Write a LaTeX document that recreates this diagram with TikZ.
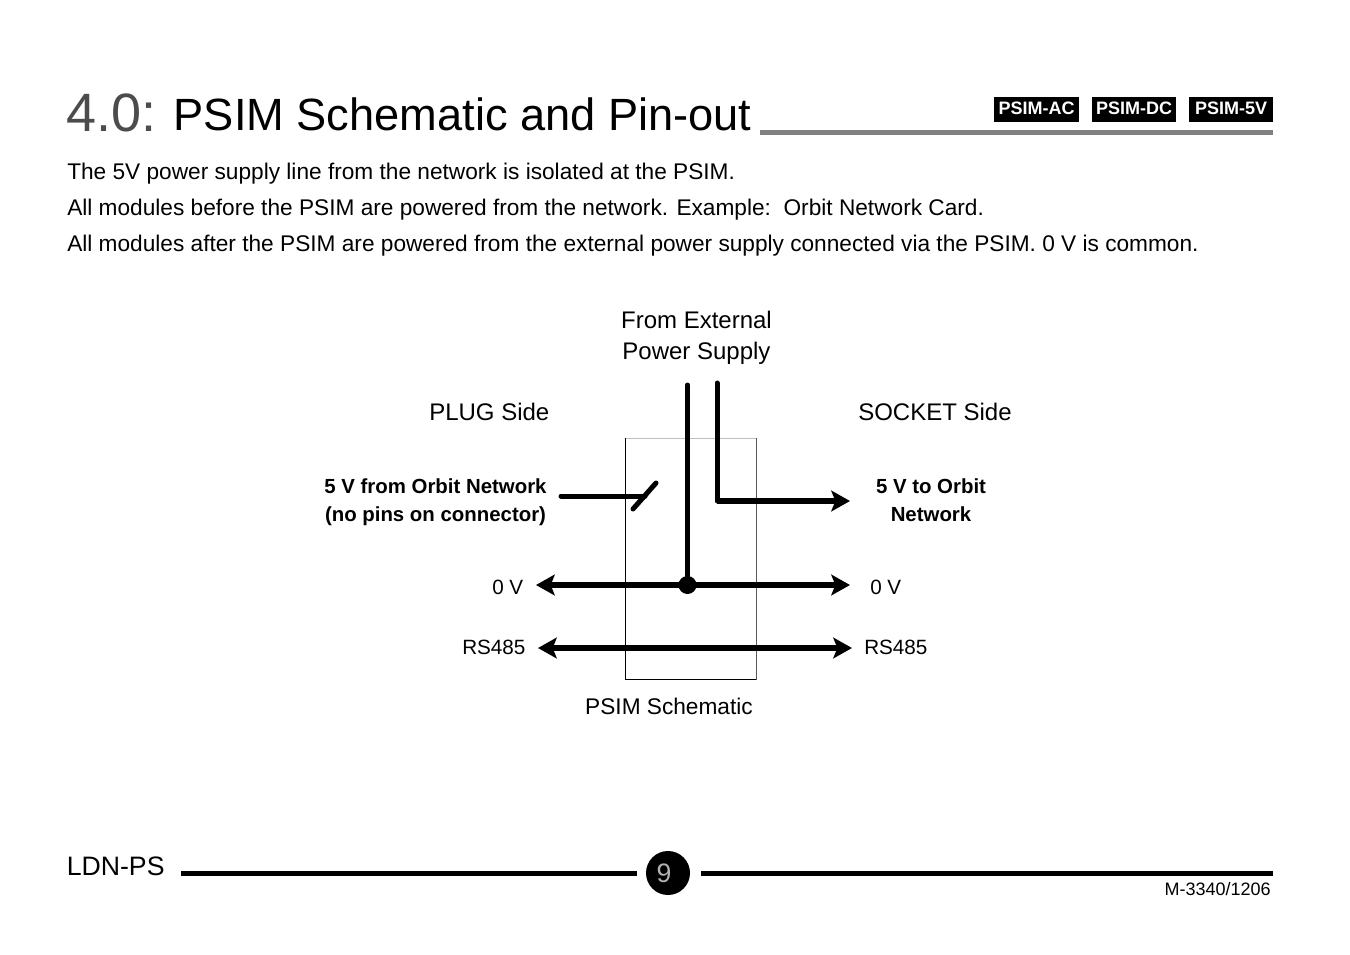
\documentclass[tikz,border=0pt]{standalone}
\usepackage{fontspec}
\setmainfont{Liberation Sans}
\usetikzlibrary{arrows.meta, positioning}

\tikzset{
	body/.style={anchor=base west, inner sep=0pt, font=\fontsize{17}{20}\selectfont},
	tag/.style={fill=black, text=white, inner sep=0pt, minimum width=63.5pt, minimum height=19pt, text depth=1.2pt, font=\fontsize{13.5}{15}\selectfont\bfseries},
	side/.style={anchor=base west, inner sep=0pt, font=\fontsize{18}{22}\selectfont},
	pin/.style={anchor=base west, inner sep=0pt, font=\fontsize{15.5}{18}\selectfont},
	wire/.style={line width=3.75pt, line cap=round, line join=miter},
	sig/.style={line width=4.2pt, -{Stealth[length=14pt,width=15.5pt,inset=3pt]}},
	bus/.style={line width=4.6pt, {Stealth[length=14pt,width=15.5pt,inset=3pt]}-{Stealth[length=14pt,width=15.5pt,inset=3pt]}},
	rule/.style={line width=3.75pt, black}
}

\begin{document}
\begin{tikzpicture}[x=0.75pt, y=-0.75pt]
	\useasboundingbox (0,0) rectangle (1350,954);
	% heading
	\node[body, text=black!70, font=\fontsize{40.5}{44}\selectfont] (num) at (66,131) {4.0:};
	\node[body, font=\fontsize{33.9}{40}\selectfont] (title) at (173.5,130) {PSIM Schematic and Pin-out};
	\coordinate (ruleA) at (760,132.5);
	\coordinate (ruleB) at (1273,132.5);
	\draw[line width=3.75pt, black!50] (ruleA) -- (ruleB);
	\node[tag] (tagac) at (1036.5,109.5) {PSIM-AC};
	\node[tag] (tagdc) at (1134,109.5) {PSIM-DC};
	\node[tag] (tagv) at (1231,109.5) {PSIM-5V};
	\node[body] (lineA) at (67,179) {The 5V power supply line from the network is isolated at the PSIM.};
	\node[body] (lineB) at (67,215) {All modules before the PSIM are powered from the network. Example:\ \ Orbit Network Card.};
	\node[body] (lineC) at (67,251) {All modules after the PSIM are powered from the external power supply connected via the PSIM. 0 V is common.};

	% schematic
	\coordinate (boxNW) at (625.5,438);
	\coordinate (boxNE) at (756,438);
	\coordinate (boxSW) at (625.5,679.5);
	\coordinate (boxSE) at (756,679.5);
	\draw[line width=0.75pt, black!25] (boxNW) -- (boxNE);
	\draw[line width=0.75pt, black!65] (boxNE) -- (boxSE);
	\draw[line width=0.75pt] (boxNW) -- (boxSW) -- (boxSE);

	\node[anchor=base, inner sep=0pt, align=center, font=\fontsize{18}{23.2}\selectfont] (supply) at (696.5,359) {From External\\Power Supply};
	\node[side] (plug) at (429,420) {PLUG Side};
	\node[side] (socket) at (858,420) {SOCKET Side};
	\node[anchor=base, inner sep=0pt, align=center, font=\fontsize{15.3}{20.3}\selectfont\bfseries] (netin) at (435.5,521) {5 V from Orbit Network\\(no pins on connector)};
	\node[anchor=base, inner sep=0pt, align=center, font=\fontsize{15.3}{20.3}\selectfont\bfseries] (netout) at (931,521) {5 V to Orbit\\Network};
	\node[pin] (zeroL) at (492,594) {0 V};
	\node[pin] (zeroR) at (870,594) {0 V};
	\node[pin] (rsL) at (462,654) {RS485};
	\node[pin] (rsR) at (864,654) {RS485};
	\node[anchor=base, inner sep=0pt, font=\fontsize{17}{20}\selectfont] (caption) at (669,714) {PSIM Schematic};

	\coordinate (inA) at (561,496);
	\coordinate (inB) at (645,496);
	\coordinate (swA) at (633,509);
	\coordinate (swB) at (656,483);
	\coordinate (gndTop) at (687.5,385);
	\coordinate (psTop) at (717,383);
	\coordinate (psBend) at (717,501);
	\coordinate (outEnd) at (850,501);
	\coordinate (zeroA) at (536,585);
	\coordinate (zeroB) at (850,585);
	\coordinate (rsA) at (538,648);
	\coordinate (rsB) at (852,648);
	\node[circle, fill=black, inner sep=0pt, minimum size=13.5pt] (join) at (687.5,585) {};
	\draw[wire] (inA) -- (inB);
	\draw[wire] (swA) -- (swB);
	\draw[wire] (gndTop) -- (join);
	\draw[wire] (psTop) -- (psBend);
	\draw[sig] (psBend) -- (outEnd);
	\draw[bus] (zeroA) -- (zeroB);
	\draw[bus] (rsA) -- (rsB);

	% footer
	\node[anchor=base west, inner sep=0pt, font=\fontsize{20}{24}\selectfont] (model) at (66.5,875) {LDN-PS};
	\node[circle, fill=black, inner sep=0pt, minimum size=33pt] (page) at (668,873) {};
	\node[text=black!30, inner sep=0pt, font=\fontsize{20}{24}\selectfont] (pageno) at (664,873) {9};
	\coordinate (footA) at (181,873);
	\coordinate (footB) at (637,873);
	\coordinate (footC) at (701,873);
	\coordinate (footD) at (1273,873);
	\draw[rule] (footA) -- (footB);
	\draw[rule] (footC) -- (footD);
	\node[anchor=base east, inner sep=0pt, font=\fontsize{13.5}{16}\selectfont] (docno) at (1271,895) {M-3340/1206};
\end{tikzpicture}
\end{document}
